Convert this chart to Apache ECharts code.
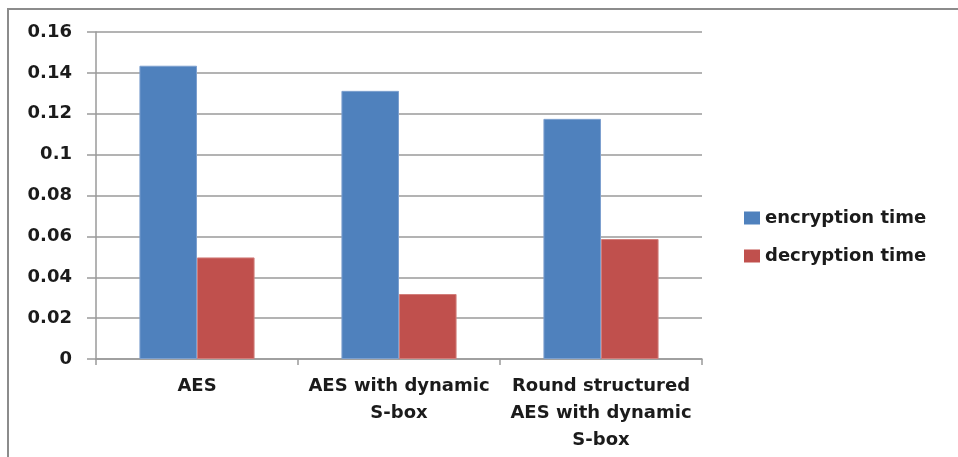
<!DOCTYPE html>
<html>
<head>
<meta charset="utf-8">
<script src="https://cdn.jsdelivr.net/npm/echarts@6/dist/echarts.min.js"></script>
<style>
  html, body { margin: 0; padding: 0; background: #fff; }
  #chart { width: 958px; height: 457px; }
</style>
</head>
<body>
<div id="chart"></div>
<script>
// Timing comparison of the three AES variants
const categories = [
  'AES',
  'AES with dynamic\nS-box',
  'Round structured\nAES with dynamic\nS-box'
];
const seriesNames = ['encryption time', 'decryption time'];
const encryptionTime = [0.1435, 0.1312, 0.1175];
const decryptionTime = [0.0497, 0.0318, 0.0587];
const yTicks = [0, 0.02, 0.04, 0.06, 0.08, 0.1, 0.12, 0.14, 0.16];

const textColor = '#1b1b1b';
const lineColor = '#9a9a9a';
const fontFamily = '"DejaVu Sans", Verdana, sans-serif';

const chart = echarts.init(document.getElementById('chart'));
chart.setOption({
  animation: false,
  backgroundColor: '#fff',
  graphic: [{
    type: 'rect',
    silent: true,
    shape: { x: 8, y: 9, width: 1200, height: 800 },
    style: { fill: 'none', stroke: '#8c8c8c', lineWidth: 2 }
  }],
  grid: { left: 96, right: 256, top: 32, bottom: 98 },
  legend: {
    orient: 'vertical',
    left: 744,
    top: 208,
    padding: 0,
    itemWidth: 16,
    itemHeight: 13,
    itemGap: 18,
    icon: 'rect',
    itemStyle: { borderWidth: 0 },
    data: seriesNames,
    textStyle: { color: textColor, fontSize: 18, lineHeight: 20, fontWeight: 'bold', fontFamily: fontFamily }
  },
  xAxis: {
    type: 'category',
    data: categories,
    axisLine: { lineStyle: { color: lineColor, width: 1.5 } },
    axisTick: { show: true, length: 6, alignWithLabel: false, lineStyle: { color: lineColor, width: 1.5 } },
    axisLabel: {
      color: textColor,
      fontSize: 18,
      fontWeight: 'bold',
      fontFamily: fontFamily,
      lineHeight: 27,
      margin: 14,
      interval: 0
    }
  },
  yAxis: {
    type: 'value',
    min: yTicks[0],
    max: yTicks[yTicks.length - 1],
    interval: yTicks[1] - yTicks[0],
    axisLine: { show: true, lineStyle: { color: lineColor, width: 1.5 } },
    axisTick: { show: true, length: 9, lineStyle: { color: lineColor, width: 1.5 } },
    splitLine: { show: true, lineStyle: { color: lineColor, width: 1.5 } },
    axisLabel: {
      color: textColor,
      fontSize: 18,
      fontWeight: 'bold',
      fontFamily: fontFamily,
      margin: 24,
      formatter: function (v) {
        const t = yTicks.find(function (x) { return Math.abs(x - v) < 1e-9; });
        return String(t !== undefined ? t : v);
      }
    }
  },
  series: [
    {
      name: seriesNames[0],
      type: 'bar',
      data: encryptionTime,
      barGap: '0%',
      barCategoryGap: '43%',
      itemStyle: { color: '#4f81bd', borderColor: '#7da0cf', borderWidth: 1 }
    },
    {
      name: seriesNames[1],
      type: 'bar',
      data: decryptionTime,
      barGap: '0%',
      barCategoryGap: '43%',
      itemStyle: { color: '#c0504d', borderColor: '#d27e7b', borderWidth: 1 }
    }
  ]
});
</script>
</body>
</html>
